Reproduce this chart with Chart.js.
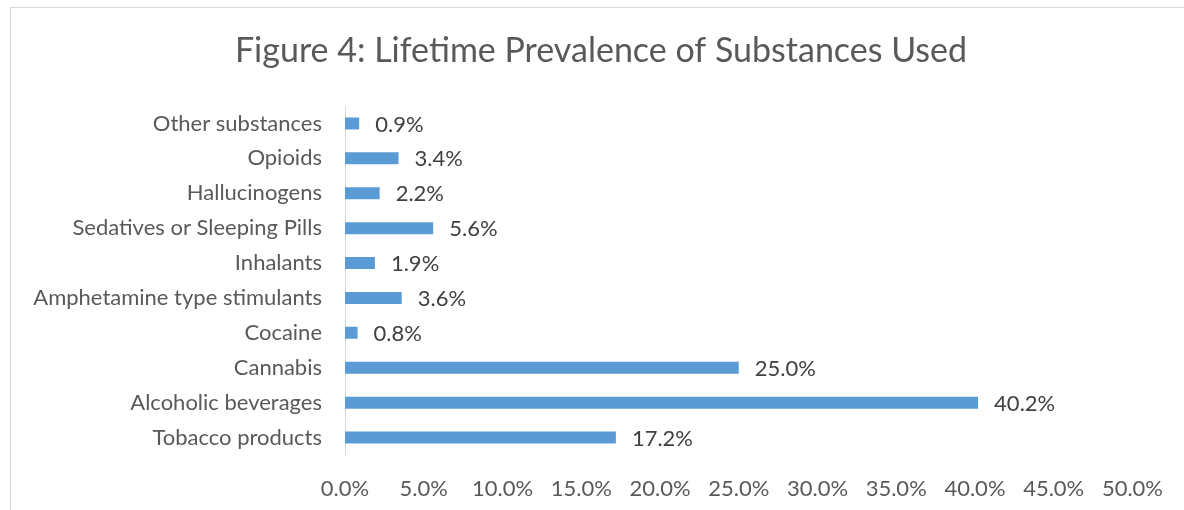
<!DOCTYPE html>
<html>
<head>
<meta charset="utf-8">
<script src="https://cdn.jsdelivr.net/npm/chart.js@4"></script>
<style>
  html, body { margin: 0; padding: 0; background: #fff; overflow: hidden; }
  #frame { position: absolute; left: 10px; top: 7px; width: 1200px; height: 520px; border: 1px solid #d9d9d9; }
  #wrap { position: absolute; left: 0; top: 0; width: 1184px; height: 510px; }
</style>
</head>
<body>
<div id="frame"></div>
<div id="wrap"><canvas id="chart_lifetimePrevalence"></canvas></div>
<script>
// categories listed top to bottom as in the figure
var substances = [
    'Other substances', 'Opioids', 'Hallucinogens', 'Sedatives or Sleeping Pills', 'Inhalants',
    'Amphetamine type stimulants', 'Cocaine', 'Cannabis', 'Alcoholic beverages', 'Tobacco products'
];
var prevalence = [0.9, 3.4, 2.2, 5.6, 1.9, 3.6, 0.8, 25.0, 40.2, 17.2];
var xTicks = [0, 5, 10, 15, 20, 25, 30, 35, 40, 45, 50];
var titleText = 'Figure 4: Lifetime Prevalence of Substances Used';

var fontFamily = 'Lato, "Open Sans", sans-serif';

// value labels at the end of each bar
var barLabels = {
    id: 'barLabels',
    afterDatasetsDraw: function (chart) {
        var ctx = chart.ctx;
        var meta = chart.getDatasetMeta(0);
        ctx.save();
        ctx.font = '22px ' + fontFamily;
        ctx.fillStyle = '#404040';
        ctx.textAlign = 'left';
        ctx.textBaseline = 'middle';
        meta.data.forEach(function (bar, i) {
            ctx.fillText(prevalence[i].toFixed(1) + '%', bar.x + 16, bar.y + 1);
        });
        ctx.restore();
    }
};

// title centred on the whole frame, not on the padded layout box
var frameTitle = {
    id: 'frameTitle',
    afterDraw: function (chart) {
        var ctx = chart.ctx;
        ctx.save();
        ctx.font = '34px ' + fontFamily;
        ctx.fillStyle = '#595959';
        ctx.textAlign = 'center';
        ctx.textBaseline = 'middle';
        ctx.fillText(titleText, (10 + chart.width) / 2 + 4, 51);
        ctx.restore();
    }
};

var chart_lifetimePrevalence = new Chart(document.getElementById('chart_lifetimePrevalence'), {
    type: 'bar',
    data: {
        labels: substances,
        datasets: [{
            label: 'Lifetime prevalence',
            data: prevalence,
            backgroundColor: '#5b9bd5',
            borderWidth: 0,
            categoryPercentage: 1.0,
            barPercentage: 0.345
        }]
    },
    options: {
        indexAxis: 'y',
        animation: false,
        responsive: true,
        maintainAspectRatio: false,
        layout: {
            padding: { left: 0, right: 51, top: 106, bottom: 0 }
        },
        plugins: {
            legend: { display: false },
            tooltip: { enabled: false },
            title: { display: false }
        },
        scales: {
            x: {
                type: 'linear',
                min: 0,
                max: 50,
                afterBuildTicks: function (scale) {
                    scale.ticks = xTicks.map(function (v) { return { value: v }; });
                },
                afterFit: function (scale) { scale.height = 55; },
                grid: { display: false, drawTicks: false },
                border: { display: false },
                ticks: {
                    padding: 21,
                    color: '#595959',
                    font: { family: fontFamily, size: 22 },
                    callback: function (v) { return v.toFixed(1) + '%'; }
                }
            },
            y: {
                afterFit: function (scale) { scale.width = 345; },
                grid: { display: false, drawTicks: false },
                border: { display: true, color: '#d9d9d9', width: 1 },
                ticks: {
                    padding: 23,
                    color: '#595959',
                    font: { family: fontFamily, size: 22 }
                }
            }
        }
    },
    plugins: [barLabels, frameTitle]
});
</script>
</body>
</html>
